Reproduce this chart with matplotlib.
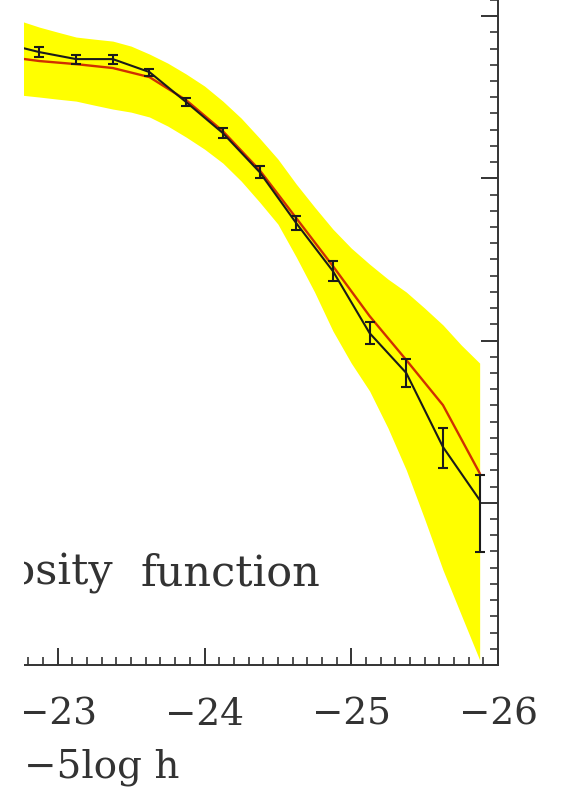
import matplotlib
matplotlib.use("Agg")
import matplotlib.pyplot as plt
from matplotlib.ticker import MultipleLocator, FixedLocator
from matplotlib.patches import Rectangle

# ---- data (absolute magnitude bins, log10 phi) ----
mag = [-22.625, -22.875, -23.125, -23.375, -23.625, -23.875, -24.125,
       -24.375, -24.625, -24.875, -25.125, -25.375, -25.625, -25.875]
logphi_obs = [-2.166, -2.222, -2.265, -2.265, -2.345, -2.530, -2.721,
              -2.961, -3.276, -3.572, -3.954, -4.200, -4.656, -4.983]
err_low = [0.025, 0.031, 0.028, 0.028, 0.022, 0.025, 0.031,
           0.037, 0.043, 0.062, 0.068, 0.086, 0.129, 0.320]
err_high = [0.025, 0.031, 0.028, 0.028, 0.022, 0.025, 0.031,
            0.037, 0.043, 0.062, 0.068, 0.086, 0.117, 0.154]
logphi_model = [-2.247, -2.277, -2.296, -2.320, -2.376, -2.518, -2.709,
                -2.949, -3.245, -3.541, -3.849, -4.120, -4.398, -4.817]

band_mag = [-22.625, -22.75, -22.875, -23.0, -23.125, -23.25, -23.375,
            -23.5, -23.625, -23.75, -23.875, -24.0, -24.125, -24.25,
            -24.375, -24.5, -24.625, -24.75, -24.875, -25.0, -25.125,
            -25.25, -25.375, -25.5, -25.625, -25.75, -25.875]
band_upper = [-1.994, -2.031, -2.068, -2.099, -2.129, -2.142, -2.154,
              -2.185, -2.234, -2.290, -2.357, -2.431, -2.524, -2.629,
              -2.752, -2.881, -3.035, -3.177, -3.313, -3.430, -3.529,
              -3.621, -3.701, -3.800, -3.904, -4.028, -4.139]
band_lower = [-2.468, -2.487, -2.499, -2.512, -2.524, -2.549, -2.573,
              -2.592, -2.622, -2.678, -2.746, -2.820, -2.906, -3.017,
              -3.146, -3.282, -3.485, -3.701, -3.941, -4.139, -4.311,
              -4.539, -4.798, -5.100, -5.414, -5.692, -5.969]
xtick_vals = [-23, -24, -25, -26]

W, H = 561, 799
fig = plt.figure(figsize=(W / 100, H / 100), dpi=100)

ax_left, ax_right, ax_bottom, ax_top = 24, 498, 665, -65  # pixel coords
ax = fig.add_axes([ax_left / W, (H - ax_bottom) / H,
                   (ax_right - ax_left) / W, (ax_bottom - ax_top) / H])

ax.fill_between(band_mag, band_lower, band_upper, color="#ffff00", lw=0,
                zorder=1)
ax.plot(mag, logphi_model, color="#d03000", lw=1.7, zorder=2)
ax.errorbar(mag, logphi_obs, yerr=[err_low, err_high], color="#1a1a1a",
            lw=1.5, elinewidth=1.5, capsize=3.6, capthick=1.5, zorder=3)

ax.set_xlim(-22.77, -26.0)
ax.set_ylim(-6.0, -1.5)

ax.xaxis.set_major_locator(FixedLocator(xtick_vals))
ax.xaxis.set_minor_locator(MultipleLocator(0.1))
ax.yaxis.set_major_locator(MultipleLocator(1))
ax.yaxis.set_minor_locator(MultipleLocator(0.1))

tcol = "#333333"
for s in ax.spines.values():
    s.set_color(tcol)
    s.set_linewidth(1.4)
ax.spines["left"].set_visible(False)

ax.tick_params(axis="x", which="both", direction="in", top=False, bottom=True,
               colors=tcol, labelcolor=tcol)
ax.tick_params(axis="y", which="both", direction="in", left=False, right=True,
               labelleft=False, labelright=False, colors=tcol)
ax.tick_params(which="major", length=12, width=1.4)
ax.tick_params(which="minor", length=5.5, width=1.2)
ax.tick_params(axis="x", which="major", pad=23, labelsize=27)
ax.set_xticklabels([f"\u2212{abs(v)}" for v in xtick_vals],
                   family="DejaVu Serif")

# annotation (left part cropped in the original figure)
fig.text(113 / W, (H - 585) / H, "Luminosity", ha="right", va="baseline",
         fontsize=31, family="DejaVu Serif", color=tcol)
fig.text(141 / W, (H - 585) / H, "function", ha="left", va="baseline",
         fontsize=31, family="DejaVu Serif", color=tcol)
fig.text(24 / W, (H - 777) / H, "\u22125log h", ha="left", va="baseline",
         fontsize=28, family="DejaVu Serif", color=tcol)

# cropped left margin of the original figure
fig.add_artist(Rectangle((0, 0), 24 / W, 1, transform=fig.transFigure,
                         facecolor="white", edgecolor="none", zorder=10))

fig.savefig("out.png", dpi=100)
